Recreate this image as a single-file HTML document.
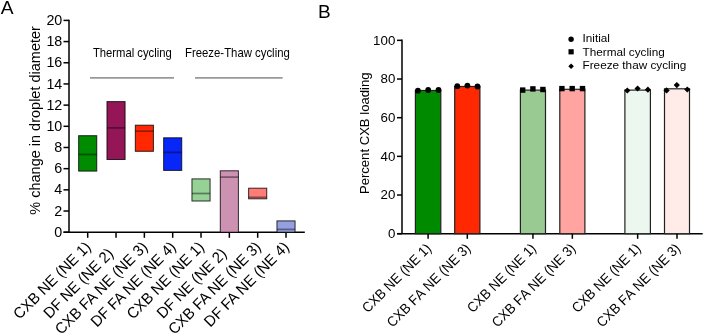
<!DOCTYPE html>
<html><head><meta charset="utf-8"><style>
html,body{margin:0;padding:0;background:#fff;}
body{width:704px;height:334px;overflow:hidden;}
svg{display:block;font-family:"Liberation Sans", sans-serif;will-change:transform;}
</style></head><body>
<svg width="704" height="334" viewBox="0 0 704 334">
<rect width="704" height="334" fill="#fff"/>
<text x="0.70" y="14.30" font-size="19.2" text-anchor="start" fill="#000" >A</text>
<line x1="69.00" y1="19.65" x2="69.00" y2="232.20" stroke="#000" stroke-width="1.5"/>
<line x1="63.50" y1="232.20" x2="69.00" y2="232.20" stroke="#000" stroke-width="1.5"/>
<text x="62.30" y="236.80" font-size="14.3" text-anchor="end" fill="#000" >0</text>
<line x1="63.50" y1="211.02" x2="69.00" y2="211.02" stroke="#000" stroke-width="1.5"/>
<text x="62.30" y="215.62" font-size="14.3" text-anchor="end" fill="#000" >2</text>
<line x1="63.50" y1="189.84" x2="69.00" y2="189.84" stroke="#000" stroke-width="1.5"/>
<text x="62.30" y="194.44" font-size="14.3" text-anchor="end" fill="#000" >4</text>
<line x1="63.50" y1="168.66" x2="69.00" y2="168.66" stroke="#000" stroke-width="1.5"/>
<text x="62.30" y="173.26" font-size="14.3" text-anchor="end" fill="#000" >6</text>
<line x1="63.50" y1="147.48" x2="69.00" y2="147.48" stroke="#000" stroke-width="1.5"/>
<text x="62.30" y="152.08" font-size="14.3" text-anchor="end" fill="#000" >8</text>
<line x1="63.50" y1="126.30" x2="69.00" y2="126.30" stroke="#000" stroke-width="1.5"/>
<text x="62.30" y="130.90" font-size="14.3" text-anchor="end" fill="#000" >10</text>
<line x1="63.50" y1="105.12" x2="69.00" y2="105.12" stroke="#000" stroke-width="1.5"/>
<text x="62.30" y="109.72" font-size="14.3" text-anchor="end" fill="#000" >12</text>
<line x1="63.50" y1="83.94" x2="69.00" y2="83.94" stroke="#000" stroke-width="1.5"/>
<text x="62.30" y="88.54" font-size="14.3" text-anchor="end" fill="#000" >14</text>
<line x1="63.50" y1="62.76" x2="69.00" y2="62.76" stroke="#000" stroke-width="1.5"/>
<text x="62.30" y="67.36" font-size="14.3" text-anchor="end" fill="#000" >16</text>
<line x1="63.50" y1="41.58" x2="69.00" y2="41.58" stroke="#000" stroke-width="1.5"/>
<text x="62.30" y="46.18" font-size="14.3" text-anchor="end" fill="#000" >18</text>
<line x1="63.50" y1="20.40" x2="69.00" y2="20.40" stroke="#000" stroke-width="1.5"/>
<text x="62.30" y="25.00" font-size="14.3" text-anchor="end" fill="#000" >20</text>
<line x1="63.50" y1="232.20" x2="304.80" y2="232.20" stroke="#000" stroke-width="1.5"/>
<line x1="87.70" y1="232.20" x2="87.70" y2="237.80" stroke="#000" stroke-width="1.5"/>
<line x1="116.03" y1="232.20" x2="116.03" y2="237.80" stroke="#000" stroke-width="1.5"/>
<line x1="144.36" y1="232.20" x2="144.36" y2="237.80" stroke="#000" stroke-width="1.5"/>
<line x1="172.69" y1="232.20" x2="172.69" y2="237.80" stroke="#000" stroke-width="1.5"/>
<line x1="201.02" y1="232.20" x2="201.02" y2="237.80" stroke="#000" stroke-width="1.5"/>
<line x1="229.35" y1="232.20" x2="229.35" y2="237.80" stroke="#000" stroke-width="1.5"/>
<line x1="257.68" y1="232.20" x2="257.68" y2="237.80" stroke="#000" stroke-width="1.5"/>
<line x1="286.01" y1="232.20" x2="286.01" y2="237.80" stroke="#000" stroke-width="1.5"/>
<rect x="78.65" y="135.70" width="18.10" height="35.40" fill="rgb(0,139,0)" stroke="#000" stroke-opacity="0.8" stroke-width="1"/>
<line x1="78.65" y1="154.50" x2="96.75" y2="154.50" stroke="#000" stroke-opacity="0.42" stroke-width="1.7"/>
<rect x="106.98" y="101.60" width="18.10" height="57.90" fill="rgb(148,22,86)" stroke="#000" stroke-opacity="0.8" stroke-width="1"/>
<line x1="106.98" y1="127.90" x2="125.08" y2="127.90" stroke="#000" stroke-opacity="0.42" stroke-width="1.7"/>
<rect x="135.31" y="125.20" width="18.10" height="26.10" fill="rgb(255,40,0)" stroke="#000" stroke-opacity="0.8" stroke-width="1"/>
<line x1="135.31" y1="131.20" x2="153.41" y2="131.20" stroke="#000" stroke-opacity="0.42" stroke-width="1.7"/>
<rect x="163.64" y="137.80" width="18.10" height="32.60" fill="rgb(8,38,248)" stroke="#000" stroke-opacity="0.8" stroke-width="1"/>
<line x1="163.64" y1="152.40" x2="181.74" y2="152.40" stroke="#000" stroke-opacity="0.42" stroke-width="1.7"/>
<rect x="191.97" y="178.90" width="18.10" height="22.10" fill="rgb(150,210,150)" stroke="#000" stroke-opacity="0.8" stroke-width="1"/>
<line x1="191.97" y1="193.50" x2="210.07" y2="193.50" stroke="#000" stroke-opacity="0.42" stroke-width="1.7"/>
<rect x="220.30" y="170.80" width="18.10" height="61.40" fill="rgb(205,145,178)" stroke="#000" stroke-opacity="0.8" stroke-width="1"/>
<line x1="220.30" y1="177.10" x2="238.40" y2="177.10" stroke="#000" stroke-opacity="0.42" stroke-width="1.7"/>
<rect x="248.63" y="188.20" width="18.10" height="10.60" fill="rgb(255,124,120)" stroke="#000" stroke-opacity="0.8" stroke-width="1"/>
<line x1="248.63" y1="197.30" x2="266.73" y2="197.30" stroke="#000" stroke-opacity="0.42" stroke-width="1.7"/>
<rect x="276.96" y="220.90" width="18.10" height="11.30" fill="rgb(150,160,225)" stroke="#000" stroke-opacity="0.8" stroke-width="1"/>
<line x1="276.96" y1="229.40" x2="295.06" y2="229.40" stroke="#000" stroke-opacity="0.42" stroke-width="1.7"/>
<text x="92.90" y="56.70" font-size="12.1" text-anchor="start" fill="#000" textLength="78.9" lengthAdjust="spacingAndGlyphs">Thermal cycling</text>
<text x="185.00" y="56.70" font-size="12.1" text-anchor="start" fill="#000" textLength="104.8" lengthAdjust="spacingAndGlyphs">Freeze-Thaw cycling</text>
<line x1="90.00" y1="77.90" x2="174.00" y2="77.90" stroke="#999999" stroke-width="1.7"/>
<line x1="195.00" y1="77.90" x2="282.60" y2="77.90" stroke="#999999" stroke-width="1.7"/>
<text x="0.00" y="0.00" font-size="14.5" text-anchor="middle" fill="#000" transform="translate(40.4,120.4) rotate(-90)">% change in droplet diameter</text>
<text x="0.00" y="0.00" font-size="15.4" text-anchor="end" fill="#000" transform="translate(91.70,248.00) rotate(-45)" textLength="101.95" lengthAdjust="spacingAndGlyphs">CXB NE (NE 1)</text>
<text x="0.00" y="0.00" font-size="15.4" text-anchor="end" fill="#000" transform="translate(114.23,254.60) rotate(-45)" textLength="91.27" lengthAdjust="spacingAndGlyphs">DF NE (NE 2)</text>
<text x="0.00" y="0.00" font-size="15.4" text-anchor="end" fill="#000" transform="translate(148.36,248.00) rotate(-45)" textLength="123.34" lengthAdjust="spacingAndGlyphs">CXB FA NE (NE 3)</text>
<text x="0.00" y="0.00" font-size="15.4" text-anchor="end" fill="#000" transform="translate(176.69,248.00) rotate(-45)" textLength="112.64" lengthAdjust="spacingAndGlyphs">DF FA NE (NE 4)</text>
<text x="0.00" y="0.00" font-size="15.4" text-anchor="end" fill="#000" transform="translate(205.02,248.00) rotate(-45)" textLength="101.95" lengthAdjust="spacingAndGlyphs">CXB NE (NE 1)</text>
<text x="0.00" y="0.00" font-size="15.4" text-anchor="end" fill="#000" transform="translate(227.55,254.60) rotate(-45)" textLength="91.27" lengthAdjust="spacingAndGlyphs">DF NE (NE 2)</text>
<text x="0.00" y="0.00" font-size="15.4" text-anchor="end" fill="#000" transform="translate(261.68,248.00) rotate(-45)" textLength="123.34" lengthAdjust="spacingAndGlyphs">CXB FA NE (NE 3)</text>
<text x="0.00" y="0.00" font-size="15.4" text-anchor="end" fill="#000" transform="translate(290.01,248.00) rotate(-45)" textLength="112.64" lengthAdjust="spacingAndGlyphs">DF FA NE (NE 4)</text>
<text x="318.00" y="18.00" font-size="19.0" text-anchor="start" fill="#000" >B</text>
<line x1="402.00" y1="39.60" x2="402.00" y2="233.70" stroke="#000" stroke-width="1.5"/>
<line x1="397.00" y1="233.70" x2="402.00" y2="233.70" stroke="#000" stroke-width="1.5"/>
<text x="395.30" y="238.00" font-size="13.3" text-anchor="end" fill="#000" >0</text>
<line x1="397.00" y1="195.03" x2="402.00" y2="195.03" stroke="#000" stroke-width="1.5"/>
<text x="395.30" y="199.33" font-size="13.3" text-anchor="end" fill="#000" >20</text>
<line x1="397.00" y1="156.36" x2="402.00" y2="156.36" stroke="#000" stroke-width="1.5"/>
<text x="395.30" y="160.66" font-size="13.3" text-anchor="end" fill="#000" >40</text>
<line x1="397.00" y1="117.69" x2="402.00" y2="117.69" stroke="#000" stroke-width="1.5"/>
<text x="395.30" y="121.99" font-size="13.3" text-anchor="end" fill="#000" >60</text>
<line x1="397.00" y1="79.02" x2="402.00" y2="79.02" stroke="#000" stroke-width="1.5"/>
<text x="395.30" y="83.32" font-size="13.3" text-anchor="end" fill="#000" >80</text>
<line x1="397.00" y1="40.35" x2="402.00" y2="40.35" stroke="#000" stroke-width="1.5"/>
<text x="395.30" y="44.65" font-size="13.3" text-anchor="end" fill="#000" >100</text>
<line x1="397.00" y1="233.70" x2="702.70" y2="233.70" stroke="#000" stroke-width="1.5"/>
<rect x="415.40" y="90.50" width="25.40" height="143.20" fill="rgb(0,138,0)" stroke="#222" stroke-width="1.2"/>
<rect x="454.70" y="86.50" width="25.20" height="147.20" fill="rgb(255,40,0)" stroke="#222" stroke-width="1.2"/>
<rect x="520.40" y="90.10" width="25.10" height="143.60" fill="rgb(152,202,146)" stroke="#222" stroke-width="1.2"/>
<rect x="559.80" y="89.30" width="25.10" height="144.40" fill="rgb(255,164,160)" stroke="#222" stroke-width="1.2"/>
<rect x="624.90" y="90.10" width="25.50" height="143.60" fill="rgb(236,247,239)" stroke="#222" stroke-width="1.2"/>
<rect x="664.50" y="88.80" width="25.00" height="144.90" fill="rgb(255,236,232)" stroke="#222" stroke-width="1.2"/>
<circle cx="417.90" cy="90.70" r="2.90" fill="#000"/>
<circle cx="428.20" cy="90.00" r="2.90" fill="#000"/>
<circle cx="438.50" cy="90.00" r="2.90" fill="#000"/>
<circle cx="457.30" cy="86.20" r="2.90" fill="#000"/>
<circle cx="467.40" cy="85.60" r="2.90" fill="#000"/>
<circle cx="477.50" cy="86.50" r="2.90" fill="#000"/>
<rect x="520.00" y="87.40" width="5.40" height="5.40" fill="#000"/>
<rect x="530.20" y="86.20" width="5.40" height="5.40" fill="#000"/>
<rect x="540.20" y="86.80" width="5.40" height="5.40" fill="#000"/>
<rect x="559.20" y="85.90" width="5.40" height="5.40" fill="#000"/>
<rect x="569.50" y="85.90" width="5.40" height="5.40" fill="#000"/>
<rect x="579.80" y="85.90" width="5.40" height="5.40" fill="#000"/>
<path d="M627.30 87.38L630.42 90.50L627.30 93.62L624.18 90.50Z" fill="#000"/>
<path d="M637.60 85.38L640.72 88.50L637.60 91.62L634.48 88.50Z" fill="#000"/>
<path d="M647.90 86.58L651.02 89.70L647.90 92.82L644.78 89.70Z" fill="#000"/>
<path d="M666.60 87.28L669.72 90.40L666.60 93.52L663.48 90.40Z" fill="#000"/>
<path d="M676.80 81.98L679.92 85.10L676.80 88.22L673.68 85.10Z" fill="#000"/>
<path d="M687.30 86.38L690.42 89.50L687.30 92.62L684.18 89.50Z" fill="#000"/>
<line x1="428.10" y1="233.70" x2="428.10" y2="238.80" stroke="#000" stroke-width="1.5"/>
<line x1="467.30" y1="233.70" x2="467.30" y2="238.80" stroke="#000" stroke-width="1.5"/>
<line x1="532.95" y1="233.70" x2="532.95" y2="238.80" stroke="#000" stroke-width="1.5"/>
<line x1="572.35" y1="233.70" x2="572.35" y2="238.80" stroke="#000" stroke-width="1.5"/>
<line x1="637.65" y1="233.70" x2="637.65" y2="238.80" stroke="#000" stroke-width="1.5"/>
<line x1="677.00" y1="233.70" x2="677.00" y2="238.80" stroke="#000" stroke-width="1.5"/>
<circle cx="571.10" cy="39.20" r="2.70" fill="#000"/>
<rect x="568.50" y="49.20" width="5.20" height="5.20" fill="#000"/>
<path d="M571.10 63.44L573.86 66.20L571.10 68.96L568.34 66.20Z" fill="#000"/>
<text x="582.50" y="42.40" font-size="11.75" text-anchor="start" fill="#000" >Initial</text>
<text x="582.50" y="55.60" font-size="11.75" text-anchor="start" fill="#000" >Thermal cycling</text>
<text x="582.50" y="68.90" font-size="11.75" text-anchor="start" fill="#000" >Freeze thaw cycling</text>
<text x="0.00" y="0.00" font-size="13.1" text-anchor="middle" fill="#000" transform="translate(368.5,133.3) rotate(-90)">Percent CXB loading</text>
<text x="0.00" y="0.00" font-size="14.0" text-anchor="end" fill="#000" transform="translate(432.10,249.30) rotate(-45)" style="font-kerning:none" textLength="90.88" lengthAdjust="spacingAndGlyphs">CXB NE (NE 1)</text>
<text x="0.00" y="0.00" font-size="14.0" text-anchor="end" fill="#000" transform="translate(471.30,249.30) rotate(-45)" style="font-kerning:none" textLength="111.39" lengthAdjust="spacingAndGlyphs">CXB FA NE (NE 3)</text>
<text x="0.00" y="0.00" font-size="14.0" text-anchor="end" fill="#000" transform="translate(536.95,249.30) rotate(-45)" style="font-kerning:none" textLength="90.88" lengthAdjust="spacingAndGlyphs">CXB NE (NE 1)</text>
<text x="0.00" y="0.00" font-size="14.0" text-anchor="end" fill="#000" transform="translate(576.35,249.30) rotate(-45)" style="font-kerning:none" textLength="111.39" lengthAdjust="spacingAndGlyphs">CXB FA NE (NE 3)</text>
<text x="0.00" y="0.00" font-size="14.0" text-anchor="end" fill="#000" transform="translate(641.65,249.30) rotate(-45)" style="font-kerning:none" textLength="90.88" lengthAdjust="spacingAndGlyphs">CXB NE (NE 1)</text>
<text x="0.00" y="0.00" font-size="14.0" text-anchor="end" fill="#000" transform="translate(681.00,249.30) rotate(-45)" style="font-kerning:none" textLength="111.39" lengthAdjust="spacingAndGlyphs">CXB FA NE (NE 3)</text>
</svg>
</body></html>
